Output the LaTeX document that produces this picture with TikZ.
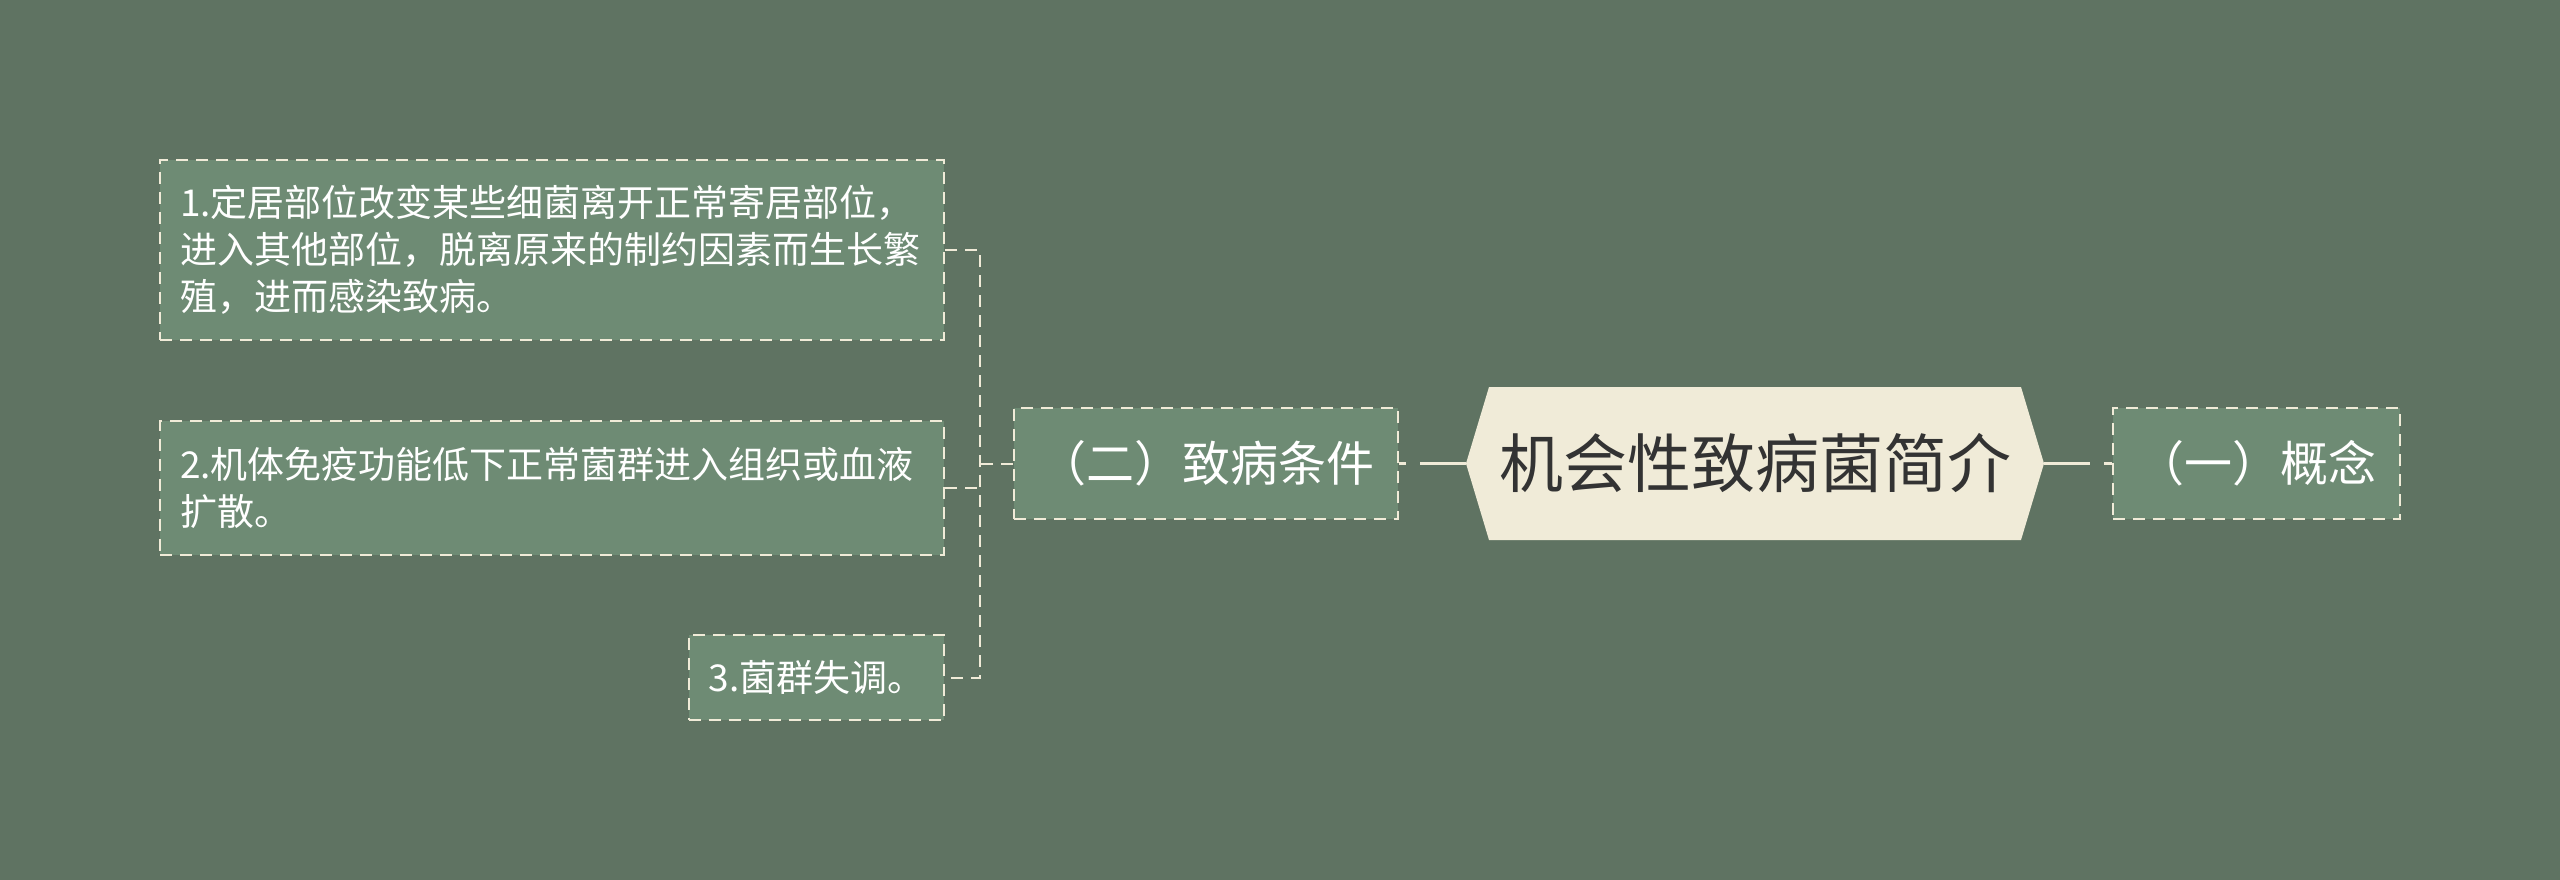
\documentclass[tikz,border=0pt]{standalone}
\usepackage{fontspec}
\setmainfont{Noto Sans CJK SC}
\usetikzlibrary{calc}
\definecolor{bg}{HTML}{5F7362}
\definecolor{boxfill}{HTML}{6E8B74}
\definecolor{cream}{HTML}{F0EBD8}
\definecolor{darktext}{HTML}{333333}
\begin{document}
\begin{tikzpicture}[x=1pt,y=-1pt,
  leafbox/.style={draw=cream, dash pattern=on 12pt off 8pt, line width=2pt, fill=boxfill,
    text=white, font=\fontsize{37}{47}\selectfont, inner xsep=20pt, inner ysep=0pt, align=left},
  midbox/.style={draw=cream, dash pattern=on 12pt off 8pt, line width=2pt, fill=boxfill,
    text=white, font=\fontsize{48}{56}\selectfont, inner sep=0pt, minimum height=111pt},
  rootnode/.style={text=darktext, font=\fontsize{64}{72}\selectfont, inner sep=0pt,
    minimum width=578pt, minimum height=153pt},
  rootline/.style={draw=cream, line width=3pt, dash pattern=on 46pt off 14pt},
  dashline/.style={draw=cream, line width=2pt, dash pattern=on 12pt off 8pt}]
\fill[bg] (0,0) rectangle (2560,880);
\useasboundingbox (0,0) rectangle (2560,880);
% root hexagon
\coordinate (rc) at (1755,463.5);
\fill[cream] ($(rc)+(-289,0)$) -- ($(rc)+(-266,-76.5)$) -- ($(rc)+(266,-76.5)$) -- ($(rc)+(289,0)$)
  -- ($(rc)+(266,76.5)$) -- ($(rc)+(-266,76.5)$) -- cycle;
\node[rootnode] (root) at (rc) {机会性致病菌简介};
% level 1
\node[midbox, minimum width=384pt] (m2) at (1206,463.5) {（二）致病条件};
\node[midbox, minimum width=287pt] (m1) at (2256.5,463.5) {（一）概念};
% leaves
\node[leafbox, text width=744pt, minimum height=180pt] (b1) at (552,250)
  {1.定居部位改变某些细菌离开正常寄居部位，\\进入其他部位，脱离原来的制约因素而生长繁\\殖，进而感染致病。};
\node[leafbox, text width=744pt, minimum height=134pt] (b2) at (552,488)
  {2.机体免疫功能低下正常菌群进入组织或血液\\扩散。};
\node[leafbox, minimum width=255pt, minimum height=85pt, align=center] (b3) at (816.5,677.5)
  {3.菌群失调。};
% connectors
\draw[rootline] (root.west) -- (m2.east);
\draw[rootline] (root.east) -- (m1.west);
\coordinate (j) at (980,463.5);
\draw[dashline] (m2.west) -- (j);
\draw[dashline] (b1.east) -- (b1.east -| j) -- (b3.east -| j) -- (b3.east);
\draw[dashline] (b2.east) -- (b2.east -| j);
\end{tikzpicture}
\end{document}
